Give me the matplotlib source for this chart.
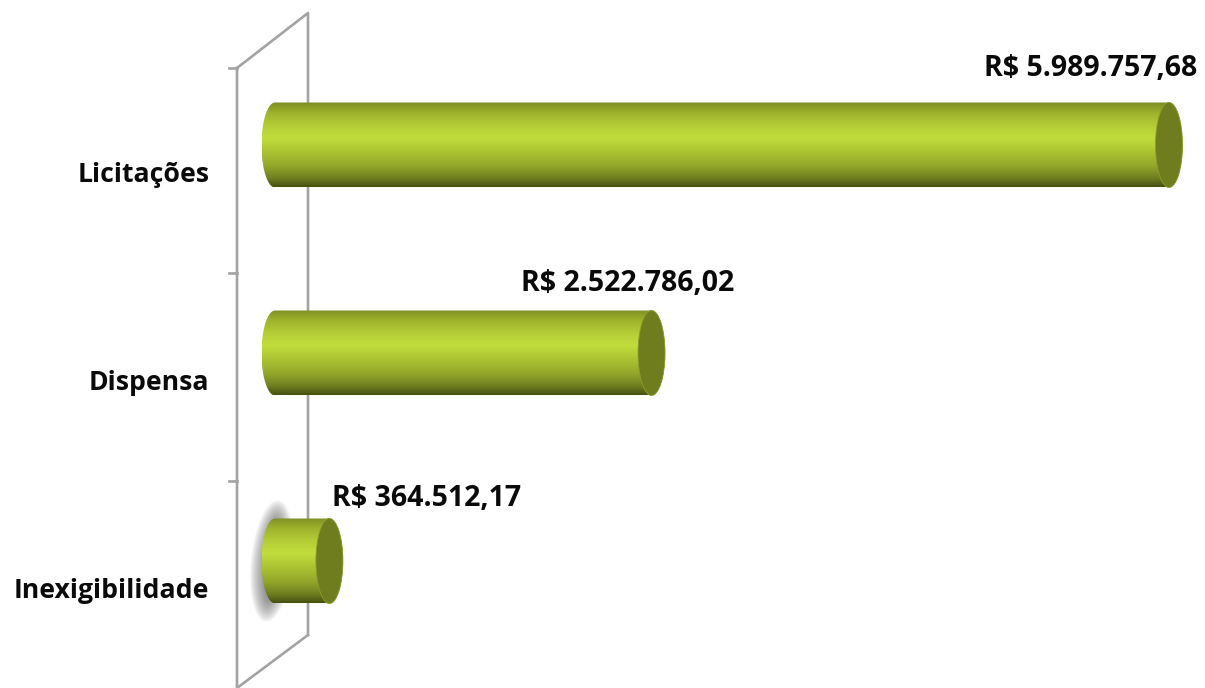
import numpy as np
import matplotlib.pyplot as plt
from matplotlib.colors import LinearSegmentedColormap
from matplotlib.patches import Ellipse, PathPatch
from matplotlib.path import Path
from matplotlib.lines import Line2D
from matplotlib.transforms import IdentityTransform

categories = ['Inexigibilidade', 'Dispensa', 'Licitações']
values = [364512.17, 2522786.02, 5989757.68]

W, H = 1205, 688
fig = plt.figure(figsize=(W / 100, H / 100), dpi=100)
ax = fig.add_axes([0, 0, 1, 1])
ax.axis('off')

# pixel scale of the chart
x0 = 275
px_x = max(values) / 894
y0 = 561
px_y = 1 / 208
ax.set_xlim(-x0 * px_x, (W - x0) * px_x)
ax.set_ylim((y0 - H) * px_y, y0 * px_y)

font = ['Open Sans', 'DejaVu Sans']
grey = '#a3a3a3'


def fig_line(xs, ys):
    fig.add_artist(Line2D([x / W for x in xs], [1 - y / H for y in ys], color=grey, lw=1.9, zorder=-1))


# back wall and ticks
fig_line([237, 308, 308], [68, 13, 635])
fig_line([308, 237, 237], [635, 688, 68])
for ty in [68, 273, 481]:
    fig_line([229, 237], [ty, ty])

cmap = LinearSegmentedColormap.from_list('cyl', [
    (0.0, '#7c8c22'), (0.12, '#9db02c'), (0.28, '#b5ce37'), (0.42, '#c1dd3c'),
    (0.55, '#b0c934'), (0.75, '#94a72b'), (0.90, '#6e7d20'), (1.0, '#454f10')])
grad = np.linspace(0, 1, 256).reshape(-1, 1)

half_h = 42.5 * px_y
half_w = 13.5 * px_x
t = np.linspace(np.pi / 2, 3 * np.pi / 2, 60)

for i, v in enumerate(values):
    if i == 0:
        # soft shadow behind the short bar, drawn in pixels
        for k in range(14):
            ax.add_patch(Ellipse((272, H - y0), 42 - 2.2 * k, 122 - 3.2 * k, angle=-6,
                                 transform=IdentityTransform(),
                                 fc='#606060', ec='none', alpha=0.065, zorder=2))
    xs = np.r_[half_w * np.cos(t), v + half_w * np.cos(t - np.pi)]
    ys = np.r_[i + half_h * np.sin(t), i + half_h * np.sin(t - np.pi)]
    verts = np.c_[xs, ys]
    body = PathPatch(Path(np.r_[verts, verts[:1]], closed=True), fc='none', ec='none', transform=ax.transData)
    ax.add_patch(body)
    im = ax.imshow(grad, cmap=cmap, aspect='auto', zorder=3, interpolation='bilinear',
                   extent=(-half_w, v + half_w, i - half_h, i + half_h))
    im.set_clip_path(body)
    ax.add_patch(Ellipse((v, i), 2 * half_w, 2 * half_h, fc='#6f7d1f', ec='#8c9c28', lw=0.6, zorder=4))

ax.set_xlim(-x0 * px_x, (W - x0) * px_x)
ax.set_ylim((y0 - H) * px_y, y0 * px_y)

# label offsets, in pixels from the end of each bar
label_dx = [97, -24, -78]
label_dy = [63, 69, 76.5]
for i, v in enumerate(values):
    s = f'{v:,.2f}'.replace(',', ' ').replace('.', ',').replace(' ', '.')
    ax.annotate('R$ ' + s, (v, i), xytext=(label_dx[i] * 0.72, label_dy[i] * 0.72),
                textcoords='offset points', ha='center', va='center',
                fontsize=20.5, fontweight='bold', family=font, color='#0a0a0a', zorder=5)
    ax.annotate(categories[i], (0, i), xytext=(-65.5 * 0.72, -30.5 * 0.72),
                textcoords='offset points', ha='right', va='center',
                fontsize=19.2, fontweight='bold', family=font, color='#0a0a0a', zorder=5)

fig.savefig('out.png', dpi=100)
